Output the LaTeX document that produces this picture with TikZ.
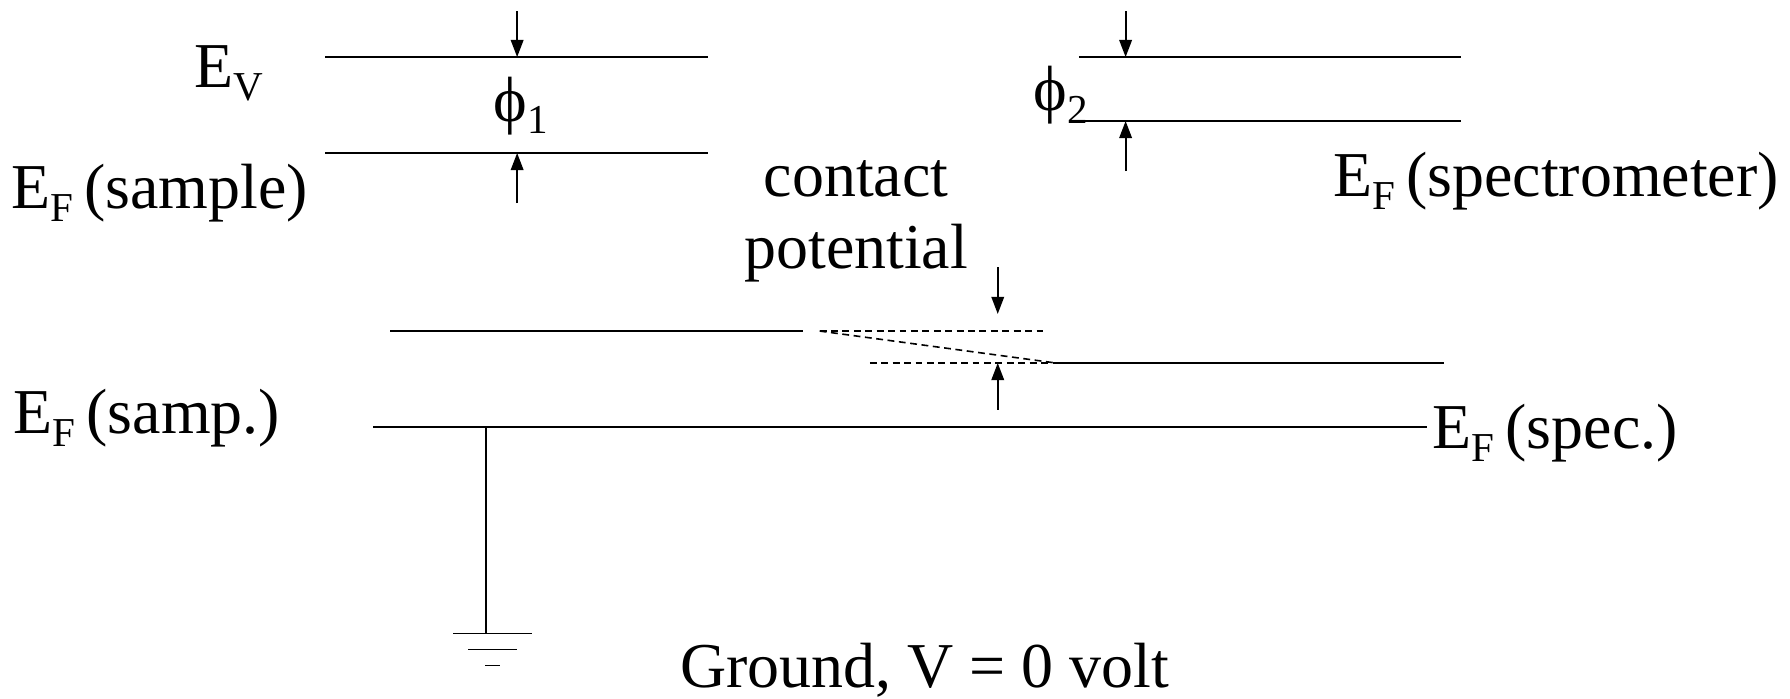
\documentclass[tikz,border=0pt]{standalone}
\usepackage{fontspec}
\setmainfont{Liberation Serif}
\usetikzlibrary{arrows.meta}
\newcommand{\lsub}[1]{\raisebox{-0.2em}{\fontsize{36}{36}\selectfont #1}}
\tikzset{
  lbl/.style={font=\fontsize{56}{60}\selectfont, inner sep=0pt},
  level/.style={line width=1.8pt},
  dlevel/.style={line width=1.4pt, dash pattern=on 6pt off 4pt},
  arr/.style={line width=1.6pt, -{Triangle[length=15pt,width=11pt]}},
}
\begin{document}
\begin{tikzpicture}[x=1pt,y=-1pt]
\useasboundingbox (0,0) rectangle (1568,612);
% left top levels
\coordinate (a1) at (285,50);  \coordinate (a2) at (620,50);
\coordinate (b1) at (285,134); \coordinate (b2) at (620,134);
\draw[level] (a1) -- (a2);
\draw[level] (b1) -- (b2);
\coordinate (p1s) at (453,10);  \coordinate (p1e) at (453,50);
\coordinate (p1u) at (453,178); \coordinate (p1v) at (453,134);
\draw[arr] (p1s) -- (p1e);
\draw[arr] (p1u) -- (p1v);
\node[lbl, anchor=base west] (ev) at (170,77) {E\lsub{V}};
\node[lbl, anchor=base west] (phi1) at (432,106) {\symbol{"03D5}\lsub{1}};
\node[lbl, anchor=base west] (efs) at (10,183) {E\lsub{F}\,(sample)};
% right top levels
\coordinate (c1) at (945,50);  \coordinate (c2) at (1280,50);
\coordinate (d1) at (945,106); \coordinate (d2) at (1280,106);
\draw[level] (c1) -- (c2);
\draw[level] (d1) -- (d2);
\coordinate (p2s) at (986,10);  \coordinate (p2e) at (986,50);
\coordinate (p2u) at (986,150); \coordinate (p2v) at (986,106);
\draw[arr] (p2s) -- (p2e);
\draw[arr] (p2u) -- (p2v);
\node[lbl, anchor=base west] (phi2) at (905,97) {\symbol{"03D5}\lsub{2}};
\node[lbl, anchor=base west] (efsp) at (1168,172) {E\lsub{F}\,(spectrometer)};
% contact potential
\node[lbl, anchor=base] (ct) at (750,172) {contact};
\node[lbl, anchor=base] (pt) at (750,235) {potential};
\coordinate (e1) at (342,290); \coordinate (e2) at (703,290);
\coordinate (f1) at (718,290); \coordinate (f2) at (916,290);
\coordinate (g1) at (762,318); \coordinate (g2) at (925,318);
\coordinate (h2) at (1265,318);
\draw[level] (e1) -- (e2);
\draw[dlevel] (f1) -- (f2);
\draw[dlevel] (f1) -- (g2);
\draw[dlevel] (g1) -- (g2);
\draw[level] (g2) -- (h2);
\coordinate (p3s) at (874,234); \coordinate (p3e) at (874,275);
\coordinate (p3u) at (874,359); \coordinate (p3v) at (874,318);
\draw[arr] (p3s) -- (p3e);
\draw[arr] (p3u) -- (p3v);
% Fermi level line and ground
\coordinate (k1) at (327,374); \coordinate (k2) at (1250,374);
\draw[level] (k1) -- (k2);
\node[lbl, anchor=base west] (efsa) at (12,380) {E\lsub{F}\,(samp.)};
\node[lbl, anchor=base west] (efspc) at (1255,393) {E\lsub{F}\,(spec.)};
\coordinate (gt) at (426,374); \coordinate (gb) at (426,555);
\draw[line width=1.6pt] (gt) -- (gb);
\coordinate (g1a) at (397,555); \coordinate (g1b) at (466,555);
\coordinate (g2a) at (410,569); \coordinate (g2b) at (453,569);
\coordinate (g3a) at (425,583); \coordinate (g3b) at (438,583);
\draw[line width=1.6pt] (g1a) -- (g1b);
\draw[line width=1.6pt] (g2a) -- (g2b);
\draw[line width=1.6pt] (g3a) -- (g3b);
\node[lbl, anchor=base] (gnd) at (810,602) {Ground, V = 0 volt};
\end{tikzpicture}
\end{document}
